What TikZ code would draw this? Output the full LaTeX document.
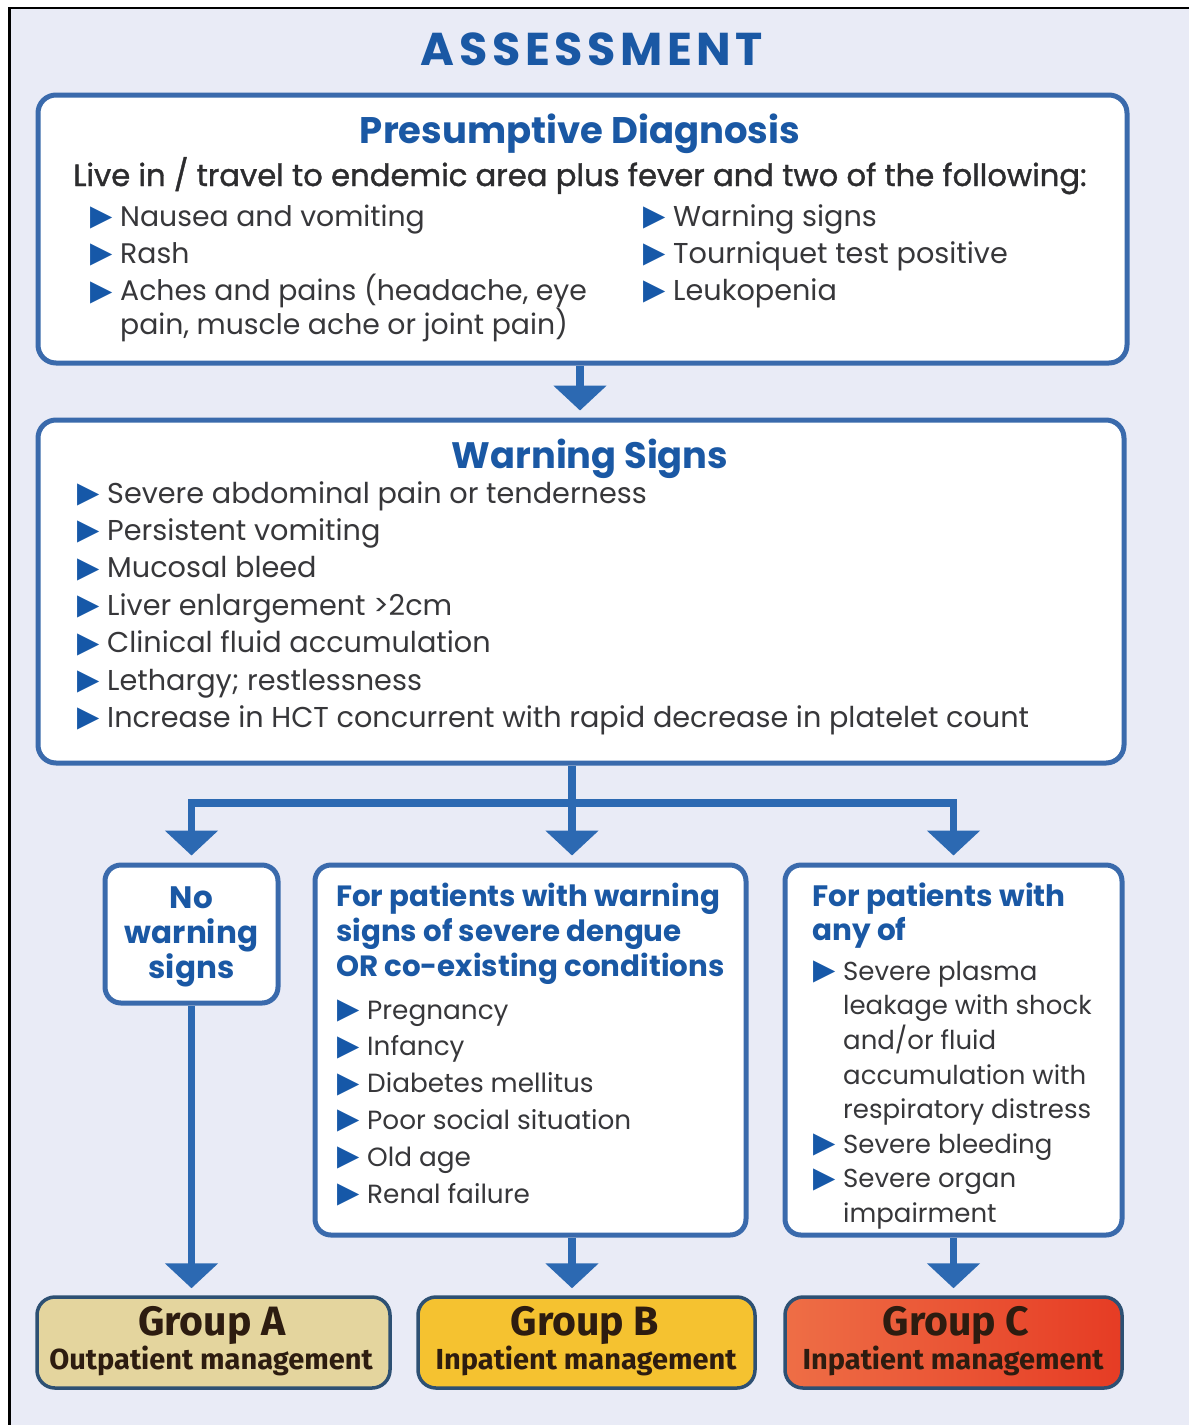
\documentclass[tikz,border=0pt]{standalone}
\usepackage{fontspec}
\setmainfont{Poppins}
\newfontfamily\symf{DejaVu Sans}
\newfontfamily\grpf{Fira Sans}
\usetikzlibrary{arrows.meta,calc}
\definecolor{bgc}{RGB}{233,235,246}
\definecolor{ttl}{RGB}{26,88,164}
\definecolor{bord}{RGB}{58,106,172}
\definecolor{arrc}{RGB}{44,105,178}
\definecolor{txt}{RGB}{55,55,58}
\definecolor{bulc}{RGB}{22,88,168}
\definecolor{gbord}{RGB}{45,80,115}
\definecolor{gAf}{RGB}{228,213,158}
\definecolor{gBf}{RGB}{245,194,48}
\definecolor{gCl}{RGB}{238,110,70}
\definecolor{gCr}{RGB}{230,60,36}
\definecolor{gtxt}{RGB}{45,28,16}
\newcommand{\bu}{\makebox[18pt][l]{\raisebox{0.5pt}{\symf\fontsize{29}{29}\selectfont\color{bulc}\char"25B6}}}
\begin{document}
\begin{tikzpicture}[x=1pt,y=-1pt,
  box/.style={draw=bord,line width=5pt,fill=white,rounded corners=18pt,inner sep=0pt},
  grp/.style={draw=gbord,line width=3.5pt,rounded corners=18pt,inner sep=0pt,minimum width=#1,minimum height=91pt},
  conn/.style={draw=arrc,line width=7.5pt,line join=miter},
  arr/.style={conn,-{Triangle[width=52pt,length=25pt]},shorten >=7pt},
  lbl/.style={inner sep=0pt,anchor=base west},
  clbl/.style={inner sep=0pt,anchor=base},
  gtitle/.style={clbl,text=gtxt,font=\grpf\bfseries\fontsize{41}{41}\selectfont},
  gsub/.style={clbl,text=gtxt,font=\grpf\bfseries\fontsize{29}{29}\selectfont}]
\useasboundingbox (0,0) rectangle (1189,1425);
\fill[white] (0,0) rectangle (1189,1425);
\fill[bgc] (9,8) rectangle (1189,1425);
\draw[black,line width=2.8pt] (9.5,1425) -- (9.5,8) -- (1189,8);

% title
\node[clbl,text=ttl,font=\fontsize{46}{46}\selectfont\bfseries\addfontfeature{LetterSpace=10}] (title) at (592,65) {ASSESSMENT};

% boxes
\node[box,minimum width=1089pt,minimum height=268pt] (pd) at (582.5,229) {};
\node[box,minimum width=1086pt,minimum height=343pt] (ws) at (581,591.5) {};
\node[box,minimum width=173pt,minimum height=138pt,rounded corners=16pt] (nw) at (191.5,934) {};
\node[box,minimum width=431pt,minimum height=370pt,rounded corners=16pt] (pb) at (530.5,1050) {};
\node[box,minimum width=337pt,minimum height=370pt,rounded corners=16pt] (pc) at (953.5,1050) {};
\node[grp=353pt,fill=gAf] (ga) at (213.5,1342.5) {};
\node[grp=337pt,fill=gBf] (gb) at (586.5,1342.5) {};
\node[grp=337pt,left color=gCl,right color=gCr] (gc) at (953.5,1342.5) {};

% box 1 text
\node[clbl,text=ttl,font=\fontsize{37}{37}\selectfont\bfseries] (pdt) at (580,143) {Presumptive Diagnosis};
\node[lbl] (pdi) at (73,186) {\fontsize{30.7}{30.7}\selectfont\color{txt!80!black}\addfontfeature{FakeBold=1.2}Live in / travel to endemic area plus fever and two of the following:};
\node[lbl] (pdl) at (90,226) {\fontsize{28.3}{37}\selectfont\color{txt}\begin{tabular}[t]{@{}l@{\hspace{12pt}}l@{}}
\bu & Nausea and vomiting\\
\bu & Rash\\
\bu & Aches and pains (headache, eye\\[-4pt]
 & pain, muscle ache or joint pain)
\end{tabular}};
\node[lbl] (pdr) at (643,226) {\fontsize{28.7}{37}\selectfont\color{txt}\begin{tabular}[t]{@{}l@{\hspace{12pt}}l@{}}
\bu & Warning signs\\
\bu & Tourniquet test positive\\
\bu & Leukopenia
\end{tabular}};

% box 2 text
\node[clbl,text=ttl,font=\fontsize{36.8}{36.8}\selectfont\bfseries] (wst) at (590,468) {Warning Signs};
\node[lbl] (wsl) at (77,503) {\fontsize{28.7}{37.4}\selectfont\color{txt}\begin{tabular}[t]{@{}l@{\hspace{12pt}}l@{}}
\bu & Severe abdominal pain or tenderness\\
\bu & Persistent vomiting\\
\bu & Mucosal bleed\\
\bu & Liver enlargement >2cm\\
\bu & Clinical fluid accumulation\\
\bu & Lethargy; restlessness\\
\bu & Increase in HCT concurrent with rapid decrease in platelet count
\end{tabular}};

% no warning signs
\node[clbl,text=ttl] (nwt) at (191.5,908) {\fontsize{31}{34.6}\selectfont\bfseries\begin{tabular}[t]{@{}c@{}}No\\warning\\signs\end{tabular}};

% box B text
\node[lbl,text=ttl] (pbh) at (336,906) {\fontsize{29.3}{35}\selectfont\bfseries\begin{tabular}[t]{@{}l@{}}For patients with warning\\signs of severe dengue\\OR co-existing conditions\end{tabular}};
\node[lbl] (pbl) at (337,1019) {\fontsize{26.3}{36.8}\selectfont\color{txt}\begin{tabular}[t]{@{}l@{\hspace{12pt}}l@{}}
\bu & Pregnancy\\
\bu & Infancy\\
\bu & Diabetes mellitus\\
\bu & Poor social situation\\
\bu & Old age\\
\bu & Renal failure
\end{tabular}};

% box C text
\node[lbl,text=ttl] (pch) at (812,906) {\fontsize{29.5}{34.5}\selectfont\bfseries\begin{tabular}[t]{@{}l@{}}For patients with\\any of\end{tabular}};
\node[lbl] (pcl) at (813,980) {\fontsize{26}{34.6}\selectfont\color{txt}\begin{tabular}[t]{@{}l@{\hspace{12pt}}l@{}}
\bu & Severe plasma\\
 & leakage with shock\\
 & and/or fluid\\
 & accumulation with\\
 & respiratory distress\\
\bu & Severe bleeding\\
\bu & Severe organ\\
 & impairment
\end{tabular}};

% group labels
\node[gtitle] (gat) at (212,1335) {Group A};
\node[gsub] (gas) at (211,1369) {Outpatient management};
\node[gtitle] (gbt) at (585,1335) {Group B};
\node[gsub] (gbs) at (586,1369) {Inpatient management};
\node[gtitle] (gct) at (956,1335) {Group C};
\node[gsub] (gcs) at (953,1369) {Inpatient management};

% connectors
\coordinate (j) at (572,803);
\draw[arr] (pd.south -| pdt) -- (pdt |- ws.north);
\draw[conn] (j |- ws.south) -- (j);
\draw[arr] (j) -| (nw.north);
\draw[arr] (j) -- (j |- pb.north);
\draw[arr] (j) -| (pc.north);
\draw[arr] (nw.south) -- (nw.south |- ga.north);
\draw[arr] (j |- pb.south) -- (j |- gb.north);
\draw[arr] (pc.south) -- (pc.south |- gc.north);
\end{tikzpicture}
\end{document}
